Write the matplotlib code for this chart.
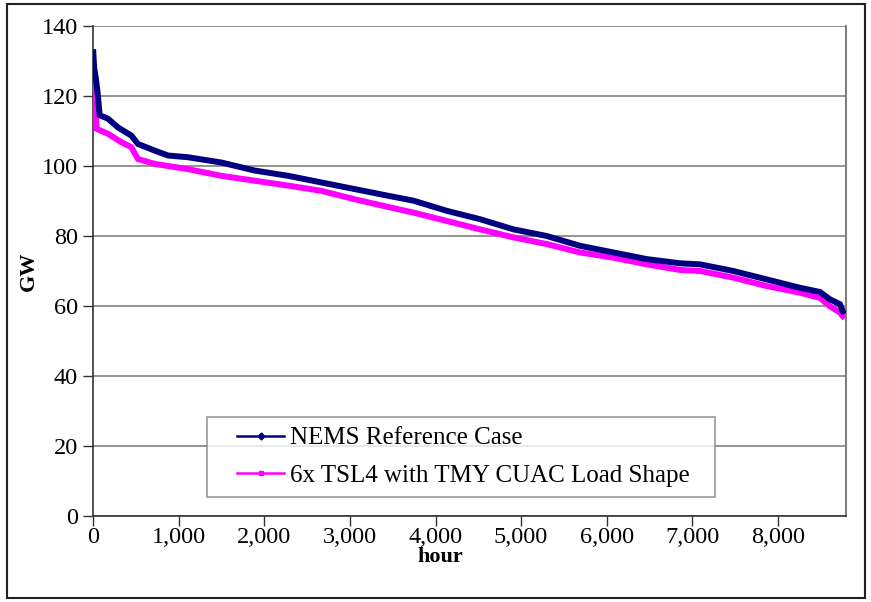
import matplotlib
matplotlib.use("Agg")
import matplotlib.pyplot as plt
from matplotlib.lines import Line2D
from matplotlib.patches import Rectangle
from matplotlib.legend_handler import HandlerLine2D

# Data (hour of year, GW)
nems_hours = [0, 10, 30, 50, 75, 172, 289, 444, 522, 718, 873, 1107, 1496, 1886,
              2276, 2665, 3055, 3445, 3741, 4131, 4520, 4910, 5300, 5689, 6079,
              6469, 6858, 7092, 7481, 7871, 8261, 8494, 8611, 8728, 8760]
nems_gw = [132.5, 128, 125, 121, 114.5, 113.5, 111, 108.7, 106.3, 104.4, 103,
           102.5, 101, 98.7, 97.2, 95.3, 93.4, 91.5, 90.1, 87.2, 84.8, 81.9,
           80.0, 77.2, 75.3, 73.4, 72.2, 71.9, 70, 67.6, 65.2, 64, 61.9, 60.5, 58.5]

tsl_hours = [0, 10, 30, 40, 172, 327, 444, 522, 718, 1107, 1496, 1886, 2276,
             2665, 3055, 3445, 3741, 4131, 4520, 4910, 5300, 5689, 6079, 6469,
             6858, 7092, 7481, 7871, 8261, 8494, 8611, 8728, 8760]
tsl_gw = [123.5, 120, 114.4, 110.6, 109.2, 106.8, 105.4, 102, 100.6, 99.1, 97.2,
          95.8, 94.4, 92.9, 90.5, 88.3, 86.7, 84.3, 81.9, 79.6, 77.7, 75.3, 73.8,
          71.9, 70.3, 70.0, 68.1, 65.7, 63.8, 62.3, 59.9, 58.1, 57.1]

series_labels = ["NEMS Reference Case", "6x TSL4 with TMY CUAC Load Shape"]
x_ticks = [0, 1000, 2000, 3000, 4000, 5000, 6000, 7000, 8000]
x_ticklabels = ["0", "1,000", "2,000", "3,000", "4,000", "5,000", "6,000", "7,000", "8,000"]
y_ticks = [0, 20, 40, 60, 80, 100, 120, 140]

NAVY = "#000080"
MAGENTA = "#FF00FF"

plt.rcParams["font.family"] = ["Liberation Serif", "DejaVu Serif"]

W, H = 871, 602
fig = plt.figure(figsize=(W / 100, H / 100), dpi=100)
ax = fig.add_axes([93.3 / W, (H - 516) / H, (846 - 93.3) / W, (516 - 26) / H])

ax.plot(tsl_hours, tsl_gw, color=MAGENTA, lw=4.3, solid_joinstyle="miter", zorder=3)
ax.plot(nems_hours, nems_gw, color=NAVY, lw=4.3, solid_joinstyle="miter", zorder=4)

ax.set_xlim(0, 8798)
ax.set_ylim(0, 140)
ax.set_xticks(x_ticks)
ax.set_xticklabels(x_ticklabels)
ax.set_yticks(y_ticks)
ax.grid(axis="y", color="#808080", lw=1.2)
ax.set_axisbelow(True)

ax.spines["top"].set_visible(False)
ax.spines["right"].set_color("#808080")
ax.spines["right"].set_linewidth(1.5)
ax.spines["left"].set_color("#333333")
ax.spines["bottom"].set_color("#333333")
ax.spines["left"].set_linewidth(1.2)
ax.spines["bottom"].set_linewidth(1.2)

ax.tick_params(axis="x", direction="out", length=7, width=1, color="#333333",
               labelsize=17.5, pad=1)
ax.tick_params(axis="y", direction="out", length=7, width=1, color="#333333",
               labelsize=17.5, pad=4)

ax.set_ylabel("GW", fontsize=16, fontweight="bold")
ax.set_xlabel("hour", fontsize=16, fontweight="bold")
ax.yaxis.set_label_coords((39 - 93.3) / 752.7, 0.5)
ax.xaxis.set_label_coords((440 - 93.3) / 752.7, -(547 - 516) / 490)
ax.xaxis.label.set_va("top")

handles = [
    Line2D([], [], color=NAVY, lw=1.8, marker="D", markersize=3.5),
    Line2D([], [], color=MAGENTA, lw=1.8, marker="s", markersize=3.5),
]
hmap = {h: HandlerLine2D(xpad=0.8) for h in handles}
leg = ax.legend(handles, series_labels, loc="lower left",
                bbox_to_anchor=(207 / W, (H - 497) / H, (715 - 207) / W, (497 - 411) / H),
                bbox_transform=fig.transFigure, mode="expand", borderaxespad=0,
                fontsize=18, frameon=True, fancybox=False, handlelength=2.68,
                handletextpad=0.24, borderpad=0.4, labelspacing=0.6,
                handler_map=hmap)
leg.get_frame().set_edgecolor("#808080")
leg.get_frame().set_linewidth(1.2)

fig.patches.append(Rectangle((7 / W, 4 / H), (865 - 7) / W, (598 - 4) / H,
                             transform=fig.transFigure, fill=False,
                             edgecolor="#222222", lw=1.5))

fig.savefig("out.png", dpi=100)
